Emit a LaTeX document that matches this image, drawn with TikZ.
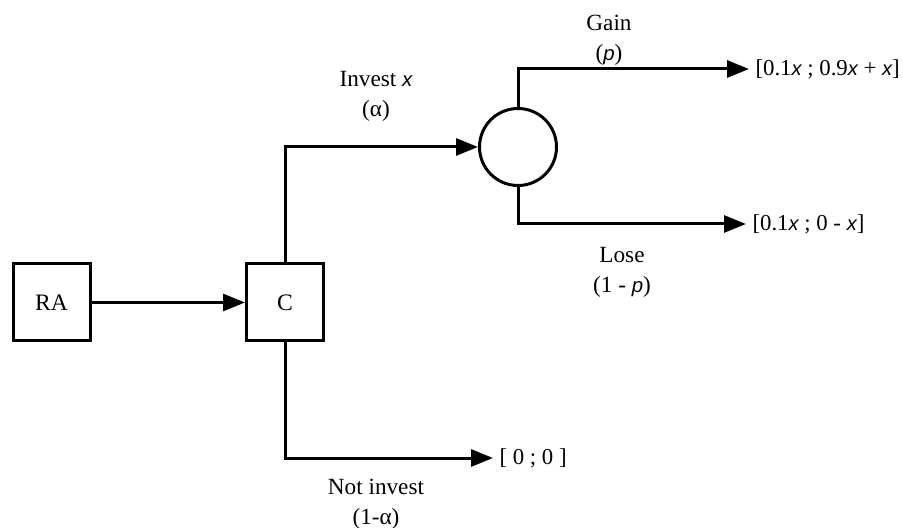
\documentclass[tikz,border=0pt]{standalone}
\usepackage{fontspec}
\setmainfont{Liberation Serif}
\newfontfamily\varfont{Liberation Sans}[Scale=0.88]
\newcommand{\vx}{{\varfont\itshape x}}
\newcommand{\vp}{{\varfont\itshape p}}
\usetikzlibrary{arrows.meta, positioning}

\begin{document}
\begin{tikzpicture}[x=0.5pt, y=-0.5pt, line width=1.5pt,
    >={Triangle[length=11pt, width=8.5pt]},
    box/.style={draw, rectangle, minimum size=38.5pt, inner sep=0pt, font=\fontsize{11.8}{15}\selectfont},
    chance/.style={draw, circle, minimum size=38.5pt, inner sep=0pt},
    payoff/.style={anchor=west, inner sep=2.5pt, font=\fontsize{11.4}{15}\selectfont},
    lbl/.style={align=center, inner sep=0pt, font=\fontsize{11.6}{15}\selectfont}]
    \useasboundingbox (0,0) rectangle (903,528);
    \node[box] (ra) at (51.5,302.5) {RA};
    \node[box] (c) at (285,302.5) {C};
    \node[chance] (ch) at (518,147) {};
    \node[payoff] (gain) at (749,69) {[0.1\vx{} ; 0.9\vx{} + \vx]};
    \node[payoff] (lose) at (746,224) {[0.1\vx{} ; 0 - \vx]};
    \node[payoff] (none) at (493,458) {[ 0 ; 0 ]};
    \node[lbl] (linvest) at (376,96) {Invest \vx\\(α)};
    \node[lbl] (lgain) at (609,40) {Gain\\(\vp)};
    \node[lbl] (llose) at (622,272) {Lose\\(1 - \vp)};
    \node[lbl] (lnone) at (376,504) {Not invest\\(1-α)};
    \draw[->] (ra) -- (c);
    \draw[->] (c.north) |- (ch);
    \draw[->] (c.south) |- (none);
    \draw[->] (ch.north) |- (gain);
    \draw[->] (ch.south) |- (lose);
\end{tikzpicture}
\end{document}
